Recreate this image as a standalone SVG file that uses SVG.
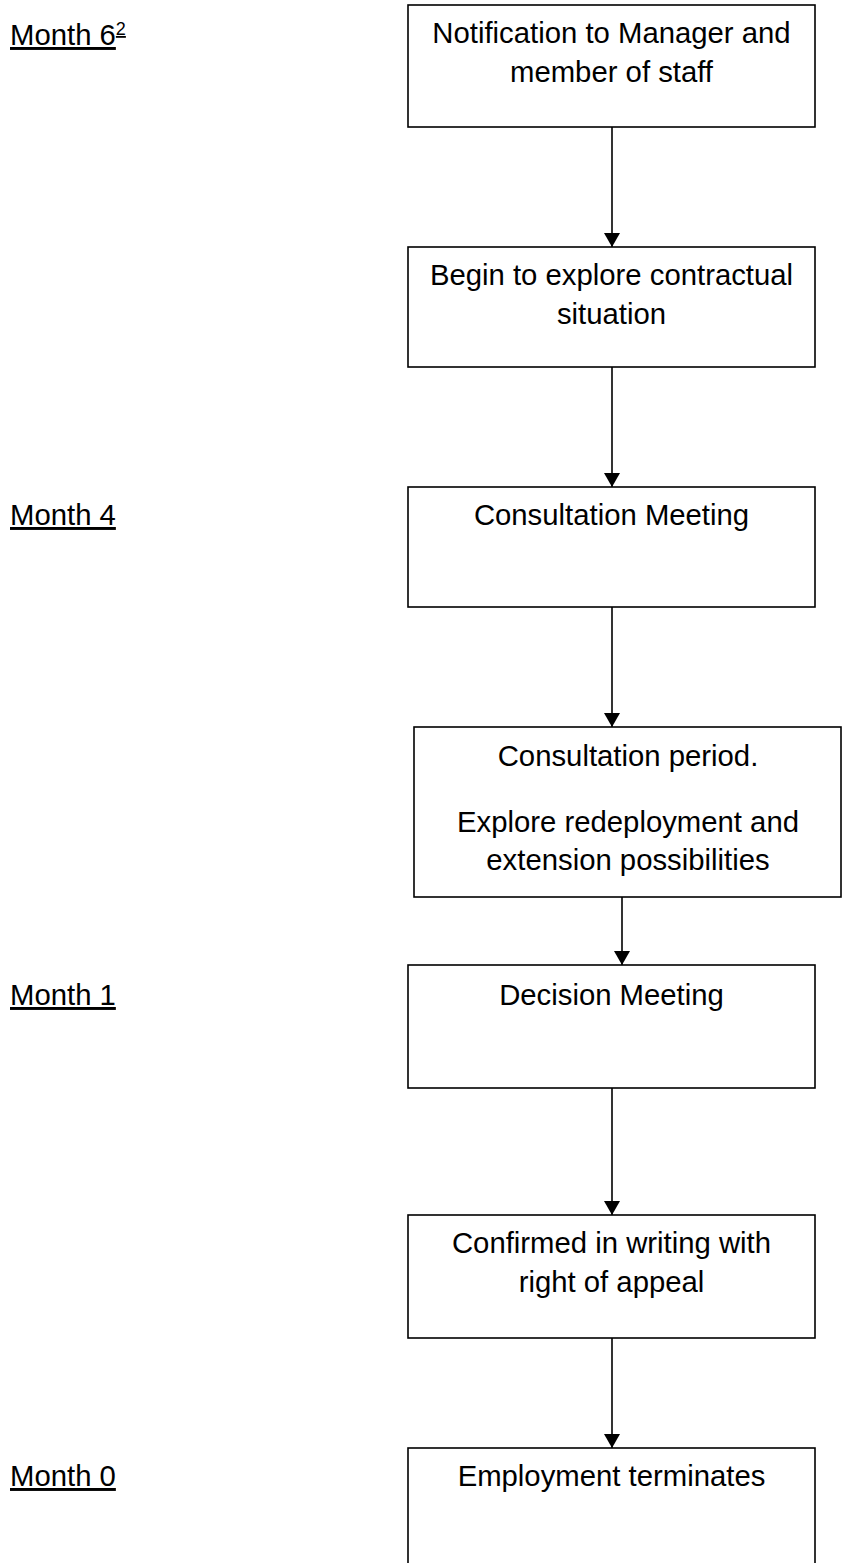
<svg xmlns="http://www.w3.org/2000/svg" width="842" height="1563" viewBox="0 0 842 1563">
<defs>
<style>
.box{fill:#fff;stroke:#000;stroke-width:1.6}
.t{font-family:"Liberation Sans",Arial,sans-serif;font-size:29.3px;fill:#000;text-anchor:middle}
.m{font-family:"Liberation Sans",Arial,sans-serif;font-size:29.3px;fill:#000;text-decoration:underline}
.sup{font-size:18px}
.c{stroke:#000;stroke-width:1.6;fill:none;marker-end:url(#ah)}
</style>
<marker id="ah" markerWidth="16" markerHeight="15" refX="8" refY="15" orient="auto" markerUnits="userSpaceOnUse" viewBox="0 0 16 15">
<path d="M0,0 L16,0 L8,15 Z" fill="#000" transform="rotate(-90 8 7.5) translate(0.5 0.5)"/>
</marker>
</defs>
<rect width="842" height="1563" fill="#fff"/>
<g id="labels">
<text class="m" x="10" y="45">Month 6<tspan class="sup" dy="-10">2</tspan></text>
<text class="m" x="10" y="525">Month 4</text>
<text class="m" x="10" y="1005">Month 1</text>
<text class="m" x="10" y="1486">Month 0</text>
</g>
<g id="connectors">
<line x1="612" y1="127" x2="612" y2="247" stroke="#000" stroke-width="1.6"/>
<path d="M604,233 L620,233 L612,247 Z"/>
<line x1="612" y1="367" x2="612" y2="487" stroke="#000" stroke-width="1.6"/>
<path d="M604,473 L620,473 L612,487 Z"/>
<line x1="612" y1="607" x2="612" y2="727" stroke="#000" stroke-width="1.6"/>
<path d="M604,713 L620,713 L612,727 Z"/>
<line x1="622" y1="897" x2="622" y2="965" stroke="#000" stroke-width="1.6"/>
<path d="M614,951 L630,951 L622,965 Z"/>
<line x1="612" y1="1088" x2="612" y2="1215" stroke="#000" stroke-width="1.6"/>
<path d="M604,1201 L620,1201 L612,1215 Z"/>
<line x1="612" y1="1338" x2="612" y2="1448" stroke="#000" stroke-width="1.6"/>
<path d="M604,1434 L620,1434 L612,1448 Z"/>
</g>
<g id="n1"><rect class="box" x="408" y="5" width="407" height="122"/>
<text class="t" x="611.5" y="43">Notification to Manager and</text>
<text class="t" x="611.5" y="82">member of staff</text></g>
<g id="n2"><rect class="box" x="408" y="247" width="407" height="120"/>
<text class="t" x="611.5" y="285">Begin to explore contractual</text>
<text class="t" x="611.5" y="324">situation</text></g>
<g id="n3"><rect class="box" x="408" y="487" width="407" height="120"/>
<text class="t" x="611.5" y="525">Consultation Meeting</text></g>
<g id="n4"><rect class="box" x="414" y="727" width="427" height="170"/>
<text class="t" x="628" y="766">Consultation period.</text>
<text class="t" x="628" y="832">Explore redeployment and</text>
<text class="t" x="628" y="870">extension possibilities</text></g>
<g id="n5"><rect class="box" x="408" y="965" width="407" height="123"/>
<text class="t" x="611.5" y="1005">Decision Meeting</text></g>
<g id="n6"><rect class="box" x="408" y="1215" width="407" height="123"/>
<text class="t" x="611.5" y="1253">Confirmed in writing with</text>
<text class="t" x="611.5" y="1292">right of appeal</text></g>
<g id="n7"><rect class="box" x="408" y="1448" width="407" height="140"/>
<text class="t" x="611.5" y="1486">Employment terminates</text></g>
</svg>
